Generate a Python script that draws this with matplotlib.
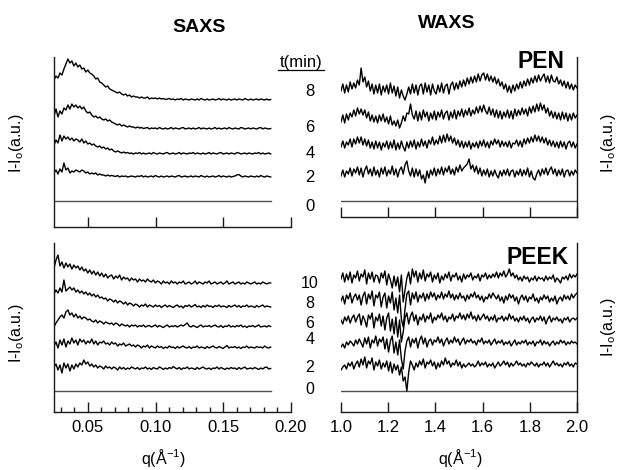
import numpy as np
import matplotlib
matplotlib.use("Agg")
import matplotlib.pyplot as plt
from matplotlib.lines import Line2D
from matplotlib.ticker import MultipleLocator

plt.rcParams['font.family'] = ['Liberation Sans', 'DejaVu Sans']

W, H = 621, 470

# ---------------- data ----------------
# measured q-ranges (samples are evenly spaced over each range)
saxs_q_range = (0.025, 0.185)
waxs_q_range = (1.0, 2.0)

# vertical stacking offsets of the curves, arbitrary units
pen_saxs_offsets = [24, 47, 72, 101]
pen_waxs_offsets = [28, 56, 83, 111]
peek_saxs_offsets = [22, 43, 64, 84, 107]
peek_waxs_offsets = [24, 46, 69, 90, 111]
pen_time_labels = ["8", "6", "4", "2", "0"]
peek_time_labels = ["10", "8", "6", "4", "2", "0"]

# PEN SAXS intensity (I - I0), t = 2, 4, 6, 8 min
pen_saxs_t2 = [4, 7, 3, 8, 5, 14, 7, 9, 4, 6,
               5, 7, 6, 5, 7, 6, 4, 5, 3, 4,
               3, 4, 2, 3, 2, 2, 1, 2, 1, 1.5,
               1, 0.5, 1.5, 0, 1, 0.5, 1, 0, 0.5, 1,
               0.5, 0, 1, 0.5, 1.5, 0, 1, 0, 0.5, 1,
               0, 1.5, 0.5, 0, 1, 0, 0.5, 1, 0, 1,
               0.5, 0, 1, 1.5, 0, 0.5, 1, 0, 0.5, 1,
               0, 1, 0.5, 0, 1.5, 0.5, 0, 1, 0, 0.5,
               1, 0, 0.5, 1.5, 0, 1, 0.5, 0, 1, 0,
               0.5, 1, 2, 2.5, 1, 0, 1, 0.5, 0, 1,
               0.5, 0, 1, 0, 1.5, 0.5, 0, 1, 0.5, 0]
pen_saxs_t4 = [9, 14, 11, 19, 13, 18, 15, 17, 14, 16,
               13, 15, 14, 12, 15, 11, 13, 10, 11, 9,
               10, 8, 7, 8, 6, 7, 5, 6, 4, 5,
               3, 2, 3, 2, 1, 2, 1, 1.5, 0.5, 1,
               0, 1, 0.5, 1.5, 0, 1, 0, 0.5, 1, 0,
               1.5, 0.5, 0, 1, 0.5, 0, 1, 1.5, 0, 0.5,
               1, 0, 0.5, 1.5, 0, 1, 0.5, 0, 1, 0.5,
               1.5, 0, 1, 0.5, 0, 1, 0, 0.5, 1.5, 0,
               1, 0.5, 0, 1, 1.5, 0, 0.5, 1, 0, 1,
               0.5, 0, 1.5, 1, 0, 0.5, 1, 0, 1, 0.5,
               0, 1, 0.5, 1.5, 0, 1, 0, 0.5, 1, 0]
pen_saxs_t6 = [13, 20, 12, 18, 15, 21, 19, 24, 20, 25,
               22, 24, 21, 23, 20, 22, 18, 16, 17, 14,
               12, 13, 11, 12, 10, 9, 10, 8, 9, 7,
               6, 5, 4, 5, 3, 4, 3, 2, 3, 2,
               2, 1, 2, 1, 1.5, 0.5, 1, 1.5, 0, 1,
               0.5, 1, 0, 1.5, 0.5, 0, 1, 0, 0.5, 1.5,
               0, 1, 0.5, 0, 1, 1.5, 0, 0.5, 1, 0,
               1, 0, 0.5, 1.5, 0, 1, 0.5, 0, 1, 0,
               0.5, 1.5, 0, 1, 0, 0.5, 1, 0, 1.5, 0.5,
               0, 1, 0.5, 0, 1.5, 1, 0, 0.5, 1, 0,
               1, 0.5, 0, 1, 1.5, 0, 1, 0.5, 0, 0.5]
pen_saxs_t8 = [20, 24, 22, 27, 25, 31, 36, 41, 37, 39,
               34, 37, 33, 35, 31, 32, 28, 30, 27, 26,
               24, 21, 22, 18, 17, 15, 13, 14, 11, 10,
               9, 8, 7, 8, 6, 5, 6, 4, 5, 3,
               4, 3, 3, 2, 3, 2, 2, 3, 1, 2,
               1.5, 2, 1, 2, 1, 1.5, 0.5, 1, 1.5, 0.5,
               1, 0, 1, 0.5, 1.5, 0, 1, 0.5, 0, 1,
               0.5, 0, 1, 0, 1.5, 0.5, 0, 1, 0, 0.5,
               1, 0, 0.5, 1.5, 0, 1, 0.5, 0, 1, 0,
               0.5, 1, 0, 1, 0.5, 0, 1.5, 0.5, 0, 1,
               0, 0.5, 1, 0, 1, 0.5, 0, 1, 0, 0.5]

# PEEK SAXS intensity (I - I0), t = 2, 4, 6, 8, 10 min
peek_saxs_t2 = [2, 5, -1, 4, -4, 6, 1, 5, -2, 4,
                0, 5, 2, 6, 4, 9, 5, 7, 3, 5,
                2, 4, 1, 3, 2, 0, 3, 1, 2, 0,
                2, 1, -1, 2, 0, 1.5, -0.5, 1, 0, 2,
                1, 0, 1.5, -0.5, 1, 0.5, 2, 0, 1, -0.5,
                1.5, 0.5, 0, 2, 1, -0.5, 1, 0, 1.5, 0.5,
                2.5, 1, 0, 1.5, -0.5, 1, 0.5, 2, 0, 1,
                0.5, -0.5, 1.5, 0, 1, 2, 0.5, 0, 1, -0.5,
                1, 0.5, 2, 0, 1.5, 0.5, -0.5, 1, 0, 1.5,
                0.5, 1, -0.5, 1.5, 0, 1, 2, 0, 0.5, 1,
                0, 1.5, 0.5, -0.5, 1, 0, 1.5, 2, 0, 0.5]
peek_saxs_t4 = [2, 6, 0, 8, 3, 9, 1, 7, 4, 10,
                5, 8, 3, 9, 6, 8, 4, 7, 5, 9,
                4, 7, 3, 6, 5, 7, 4, 5, 3, 6,
                4, 5, 2, 4, 3, 5, 2, 3, 4, 2,
                3, 1, 3, 2, 0, 2, 1, 3, 0, 2,
                1, 0, 2, 0.5, 1.5, -0.5, 1, 0, 2, 0.5,
                1, -0.5, 1.5, 0, 1, 2, 0.5, 0, 1.5, -0.5,
                1, 0.5, 2, 0, 1, 0.5, -0.5, 1.5, 0, 1,
                2, 0.5, 0, 1.5, 0.5, -0.5, 1, 2.5, 0, 1,
                0.5, 1.5, 0, 1, -0.5, 1, 0.5, 2, 0, 1,
                0.5, 0, 1.5, 0.5, 1, 0, 2, 0.5, 0, 1]
peek_saxs_t6 = [0, 4, 7, 10, 12, 9, 15, 17, 12, 14,
                10, 13, 9, 11, 8, 10, 9, 7, 8, 6,
                5, 7, 4, 6, 5, 3, 5, 4, 3, 4,
                2, 4, 3, 1, 3, 2, 1, 2, 0, 2,
                1, 2, 0, 1.5, 0.5, 2, 0, 1, 1.5, 0,
                1, 2, 0, 1.5, 0.5, -0.5, 1, 2, 0, 1,
                0.5, 1.5, 0, 1, 2, 1, 2.5, 4, 1, 0,
                1.5, 0.5, -0.5, 1, 2, 0, 1, 0.5, 1.5, 0,
                1, 2, 0.5, 0, 1.5, -0.5, 1, 0.5, 2, 0,
                1, 0, 1.5, 0.5, 2, 0, 1, -0.5, 1, 0.5,
                1.5, 0, 1, 2, 0, 0.5, 1, 0, 1.5, 0.5]
peek_saxs_t8 = [13, 17, 14, 19, 15, 27, 16, 18, 20, 17,
                19, 15, 17, 14, 16, 13, 15, 12, 14, 11,
                13, 10, 12, 9, 10, 8, 9, 6, 8, 7,
                5, 7, 4, 6, 5, 3, 5, 2, 4, 3,
                1, 3, 2, 0, 2, 1, 3, 0, 2, 1,
                0, 2, 0.5, 1.5, -0.5, 1, 2, 0, 1.5, 0.5,
                -0.5, 1, 2, 0, 1, -1, 1.5, 0.5, 2, 0,
                1, 2.5, 0, 1, -0.5, 1.5, 0, 2, 0.5, 1,
                -0.5, 1.5, 0.5, 2, 0, 1, 0.5, -0.5, 1.5, 0,
                1, 2, 0, 1.5, -0.5, 1, 0.5, 2, 0, 1,
                0.5, -0.5, 1.5, 0, 1, 2, 0, 1, 0.5, 0]
peek_saxs_t10 = [16, 24, 29, 18, 22, 16, 21, 17, 20, 15,
                 19, 16, 18, 14, 17, 13, 15, 11, 14, 10,
                 13, 9, 12, 8, 11, 7, 10, 6, 8, 9,
                 5, 8, 6, 9, 4, 7, 5, 6, 3, 6,
                 4, 5, 2, 5, 3, 4, 2, 5, 3, 2,
                 4, 1, 3, 2, 0, 3, 1, 2, 0, 3,
                 1, 2, 0, 2, 1, 3, 0, 1, 2, 0,
                 1, 3, 0, 2, 1, 0, 2, 1, 3, 0,
                 1, 2, 0, 1, 2, 0, 1, 3, 0, 1,
                 2, 0, 1, 2, 0, 1, 0, 2, 1, 0,
                 1, 2, 0, 1, 0, 2, 1, 0, 1, 1]

# PEN WAXS intensity (I - I0), t = 2, 4, 6, 8 min
pen_waxs_t2 = [-3, 3, -4, 2, -1, 5, -3, 4, 0, 6,
               -2, 5, -4, 3, 7, -1, 4, -3, 6, -2,
               3, -4, 5, -1, 6, -3, 3, -1, 7, -2,
               4, -4, 3, 6, -1, 8, 12, 2, -3, 5,
               -4, 4, -3, 3, -6, -2, -10, 2, -5, 3,
               -2, 5, -3, 4, -1, 6, -2, 5, 1, 7,
               -1, 4, -2, 6, 1, 8, 2, 5, 7, 9,
               14, 4, 8, 1, 7, -1, 5, -3, 3, -2,
               4, -4, 2, -3, 3, -2, -5, 2, -3, 3,
               -2, 4, -3, 2, 3, -4, 2, -2, 4, -3,
               3, -2, 5, -4, 2, -5, -7, -1, 3, -3,
               4, -1, 5, -2, 3, 6, -1, 4, -3, 3,
               -2, 4, -4, 2, 3, -3, 2, -2, 3, 0]
pen_waxs_t4 = [-2, 4, -3, 3, 0, 6, -2, 6, 1, 8,
               2, 8, 0, 6, -1, 5, -3, 3, -4, 4,
               -3, 3, -5, 2, -2, 4, -4, 3, -3, 5,
               -5, 2, -4, 4, -2, -6, 3, -3, 4, -2,
               5, -4, 3, -2, 6, -1, 4, -3, 5, 1,
               8, 0, 5, 1, 9, 2, 10, 3, 11, 4,
               9, 2, 7, 0, 5, -2, 4, -3, 3, -2,
               4, -4, 2, -2, 3, -3, 4, -1, 5, -2,
               3, -3, 4, 0, 6, 1, 5, -2, 4, -1,
               3, -2, 4, -3, 2, 1, 5, -1, 4, -2,
               6, 1, 7, 2, 8, 3, 10, 4, 9, 3,
               8, 2, 7, 0, 5, -1, 4, -2, 3, -3,
               4, -2, 3, -4, 2, 4, -2, 3, -3, 1]
pen_waxs_t6 = [-4, 3, -5, 4, -2, 5, 1, 8, 2, 10,
               4, 9, 3, 8, 0, 6, -3, 3, -4, 2,
               -5, 3, -3, 4, -4, 1, -6, 2, -7, -3,
               -8, -2, -10, -5, 2, -3, 5, 4, 14, 3,
               -1, 7, -3, 6, -2, 8, 1, 6, -3, 5,
               -1, 7, -2, 6, 1, 8, -1, 5, 7, -2,
               6, 0, 8, -1, 7, 2, 9, 1, 8, 3,
               10, 2, 8, 4, 11, 5, 12, 6, 13, 7,
               4, 11, 3, 9, 1, 8, 0, 7, -1, 6,
               1, 8, 0, 7, -1, 9, 2, 8, 3, 10,
               4, 9, 2, 11, 5, 12, 6, 14, 7, 15,
               8, 13, 5, 10, 2, 7, 0, 6, -1, 5,
               -2, 6, -1, 5, -3, 4, -2, 5, 0, 3]
pen_waxs_t8 = [-1, 6, -3, 5, -2, 8, 1, 7, 2, 10,
               5, 22, 8, 13, 3, 9, -1, 6, -4, 5,
               -3, 6, -5, 4, -2, 5, -4, 7, -3, 4,
               -6, 3, -8, 0, -6, -10, -4, 3, -4, 6,
               -3, 5, -5, 4, 6, -4, 7, -2, 5, -5,
               6, -1, -4, 5, -2, 7, -3, 4, 6, -4,
               5, 8, 0, 7, 1, 9, 3, 10, 4, 12,
               6, 13, 7, 14, 8, 16, 9, 15, 17, 10,
               16, 9, 14, 8, 13, 6, 11, 4, 8, 1,
               6, -2, 4, -3, 5, -1, 6, 1, 8, 2,
               9, 4, 11, 5, 12, 7, 14, 8, 15, 9,
               13, 16, 8, 14, 7, 15, 9, 8, 13, 6,
               10, 4, 9, 2, 8, 1, 6, 0, 5, 2]

# PEEK WAXS intensity (I - I0), t = 2, 4, 6, 8, 10 min
peek_waxs_t2 = [-3, 0, 2, -2, 4, 1, 5, -2, 3, 6,
                0, 8, 2, 10, -1, 6, 3, 9, -3, 5,
                1, 7, -2, 4, 0, 6, -4, 5, -6, 3,
                -3, 2, -8, 0, -14, -10, -24, -5, 6, 2,
                -3, 4, 0, 6, 2, 8, -1, 5, 3, 7,
                1, 5, -2, 4, 0, 6, 2, 9, 3, 6,
                0, 4, 2, 7, 1, 5, -1, 3, 0, 2,
                4, 1, 3, 0, 2, 6, 1, 4, 2, 5,
                0, 3, 1, 4, -1, 2, 5, 1, 3, 6,
                2, 5, 0, 4, 1, 3, 6, 2, 4, 1,
                3, 0, 4, 2, 5, 3, 1, 4, 0, 3,
                2, 5, 1, 4, 0, 3, 6, 2, 4, 1,
                3, 0, 4, 2, 5, 1, 3, 0, 4, 3]
peek_waxs_t4 = [-2, 1, -3, 3, 0, 4, 2, -1, 5, 1,
                6, 2, -2, 7, 1, 8, -3, 5, 2, 9,
                -1, 6, 3, 8, -4, 6, -7, 4, 9, -8,
                3, -10, 5, -14, -24, -6, 4, 8, -2, 6,
                2, 7, -3, 5, 9, 1, 7, -2, 4, 6,
                0, 5, 3, 8, 2, 6, -1, 4, 7, 1,
                5, 2, 8, 3, 6, 0, 4, 7, 1, 5,
                3, 6, 2, 4, 0, 5, 3, 7, 1, 4,
                2, 5, 0, 3, 6, 1, 4, 2, 5, 0,
                3, 1, 4, -1, 2, 5, 0, 3, 1, 4,
                2, 5, 0, 3, 1, 4, -1, 3, 2, 5,
                0, 4, 1, 3, -1, 2, 4, 0, 3, 1,
                5, 2, 4, 0, 3, 1, 4, 2, 3, 1]
peek_waxs_t6 = [2, -2, 5, 1, 6, -1, 4, 7, 0, 5,
                8, -3, 6, 2, -5, 7, 3, 9, -6, 5,
                1, 8, -4, 6, -8, 4, 9, -9, 3, -12,
                5, -15, 2, -20, -10, 4, 9, -2, 6, 10,
                1, 7, -3, 5, 2, 8, 0, 6, 3, 9,
                -1, 5, 2, 7, 4, 9, 2, 6, 0, 5,
                3, 8, 1, 6, 4, 9, 3, 7, 2, 8,
                4, 10, 3, 6, 1, 7, 2, 5, 8, 3,
                6, 1, 5, 2, 7, 0, 4, 3, 6, 1,
                5, 2, 8, 3, 6, 1, 4, 0, 5, 2,
                6, 1, 4, -1, 3, 5, 0, 4, 2, 6,
                1, 5, -2, 3, 6, 0, 4, 2, 5, 1,
                3, -1, 4, 2, 5, 0, 3, 4, 2, 4]
peek_waxs_t8 = [0, 5, -3, 6, 2, 8, -2, 4, 7, 1,
                6, -4, 5, 9, -3, 7, 2, 10, -5, 6,
                3, 9, -6, 4, 8, -7, 5, -2, 9, -9,
                3, -12, 6, -18, -26, -8, 7, 10, -4, 8,
                2, 9, -1, 6, 3, 8, 0, 7, 2, 9,
                4, 8, 1, 6, 3, 9, 2, 7, 4, 10,
                3, 7, 1, 6, 2, 8, 3, 5, 0, 6,
                2, 7, 4, 9, 3, 6, 1, 5, -1, 4,
                2, 7, 3, 8, 5, 2, 6, 0, 4, -2,
                5, 1, 7, 3, 6, 0, 4, -3, 3, 6,
                1, 5, -1, 4, 2, 7, 0, 3, -2, 4,
                1, 6, 2, 5, -1, 3, 0, 5, -3, 2,
                4, 0, 6, 2, 5, 1, 7, 3, 6, 8]
peek_waxs_t10 = [1, 7, -2, 6, 0, 8, -3, 5, 2, 9,
                 -1, 6, 3, 10, -4, 7, 1, 8, -2, 5,
                 4, -3, 7, 2, 9, -5, 6, 0, -8, 4,
                 -6, 3, -12, 5, -22, -10, 2, 8, -4, 11,
                 3, 9, -2, 7, 1, 10, -1, 6, 3, 8,
                 -2, 5, 1, 7, -3, 4, 0, 6, 2, 8,
                 -1, 5, 3, 7, 0, 4, -2, 6, 1, 5,
                 3, 7, 0, 4, 2, 6, -1, 5, 3, 7,
                 1, 5, 2, 6, 3, 8, 2, 7, 4, 9,
                 3, 6, 11, 4, 7, 2, 5, 0, 3, -1,
                 4, 1, 3, -2, 2, 0, 4, -1, 3, 1,
                 2, -1, 4, 0, 3, 1, 5, -2, 2, 0,
                 -3, 3, 1, 4, 0, 6, 2, 5, 3, 6]

pen_saxs = [pen_saxs_t2, pen_saxs_t4, pen_saxs_t6, pen_saxs_t8]
pen_waxs = [pen_waxs_t2, pen_waxs_t4, pen_waxs_t6, pen_waxs_t8]
peek_saxs = [peek_saxs_t2, peek_saxs_t4, peek_saxs_t6, peek_saxs_t8, peek_saxs_t10]
peek_waxs = [peek_waxs_t2, peek_waxs_t4, peek_waxs_t6, peek_waxs_t8, peek_waxs_t10]

# ---------------- figure ----------------
fig = plt.figure(figsize=(W / 100, H / 100), dpi=100)


def px_axes(left, top, right, bottom):
    return fig.add_axes([left / W, 1 - bottom / H, (right - left) / W, (bottom - top) / H])


def fig_text(x, y, s, **kw):
    fig.text(x / W, 1 - y / H, s, **kw)


SPINE = '#1a1a1a'
BASE = '#505050'


def style(ax, side, labels, minor):
    for sp in ('top', 'left', 'right'):
        ax.spines[sp].set_visible(False)
    ax.spines[side].set_visible(True)
    for sp in ax.spines.values():
        sp.set_color(SPINE)
        sp.set_linewidth(1.0)
    ax.set_yticks([])
    ax.tick_params(axis='x', which='major', direction='in', length=7.5, width=1.0,
                   color=SPINE, labelsize=12, pad=6, labelbottom=labels)
    ax.tick_params(axis='x', which='minor', direction='in', length=3.8, width=1.0,
                   color=SPINE)
    if not minor:
        ax.xaxis.set_minor_locator(plt.NullLocator())


def draw(ax, q_range, curves, offsets):
    ax.plot(list(q_range), [0, 0], color=BASE, lw=1.0)
    for vals, off in zip(curves, offsets):
        q = np.linspace(q_range[0], q_range[1], len(vals))
        ax.plot(q, np.asarray(vals, dtype=float) + off, color='black', lw=1.0)


# top-left: PEN SAXS
ax1 = px_axes(54, 57, 291, 227)
draw(ax1, saxs_q_range, pen_saxs, pen_saxs_offsets)
ax1.set_xlim(0.025, 0.20)
ax1.set_ylim(-26, 144)
ax1.set_xticks([0.05, 0.10, 0.15, 0.20])
style(ax1, 'left', False, False)

# top-right: PEN WAXS
ax2 = px_axes(341, 57, 577, 217)
draw(ax2, waxs_q_range, pen_waxs, pen_waxs_offsets)
ax2.set_xlim(1.0, 2.0)
ax2.set_ylim(-16, 144)
ax2.set_xticks([1.0, 1.2, 1.4, 1.6, 1.8, 2.0])
style(ax2, 'right', False, False)

# bottom-left: PEEK SAXS
ax3 = px_axes(54, 243, 291, 412)
draw(ax3, saxs_q_range, peek_saxs, peek_saxs_offsets)
ax3.set_xlim(0.025, 0.20)
ax3.set_ylim(-21, 148)
ax3.set_xticks([0.05, 0.10, 0.15, 0.20])
ax3.set_xticklabels(['0.05', '0.10', '0.15', '0.20'])
ax3.xaxis.set_minor_locator(MultipleLocator(0.01))
style(ax3, 'left', True, True)

# bottom-right: PEEK WAXS
ax4 = px_axes(341, 243, 577, 412)
draw(ax4, waxs_q_range, peek_waxs, peek_waxs_offsets)
ax4.set_xlim(1.0, 2.0)
ax4.set_ylim(-21, 148)
ax4.set_xticks([1.0, 1.2, 1.4, 1.6, 1.8, 2.0])
ax4.set_xticklabels(['1.0', '1.2', '1.4', '1.6', '1.8', '2.0'])
style(ax4, 'right', True, False)

# titles and sample names
fig_text(199, 27, 'SAXS', ha='center', va='center', fontsize=14, fontweight='bold')
fig_text(447, 23, 'WAXS', ha='center', va='center', fontsize=14, fontweight='bold')
fig_text(564, 61, 'PEN', ha='right', va='center', fontsize=16.5, fontweight='bold')
fig_text(569, 257, 'PEEK', ha='right', va='center', fontsize=16.5, fontweight='bold')

# axis labels
ylab = r'I-I$_\mathregular{o}$(a.u.)'
for x, y in [(16, 143), (16, 333), (608, 143), (608, 327)]:
    fig_text(x, y, ylab, ha='center', va='center', rotation=90, fontsize=11.5)
xlab = r'q($\mathregular{\AA^{-1}}$)'
fig_text(163, 458, xlab, ha='center', va='center', fontsize=11.5)
fig_text(460, 458, xlab, ha='center', va='center', fontsize=11.5)

# time labels between the panels
fig_text(301, 63, 't(min)', ha='center', va='center', fontsize=12)
fig.add_artist(Line2D([278 / W, 324 / W], [1 - 70 / H, 1 - 70 / H], color='black', lw=0.9))
for t, y in zip(pen_time_labels, [92, 128, 153, 178, 206]):
    fig_text(310, y, t, ha='center', va='center', fontsize=12)
for t, y in zip(peek_time_labels, [284, 303, 324, 339, 367, 390]):
    fig_text(310, y, t, ha='center', va='center', fontsize=11.5)

fig.savefig('out.png', dpi=100)
